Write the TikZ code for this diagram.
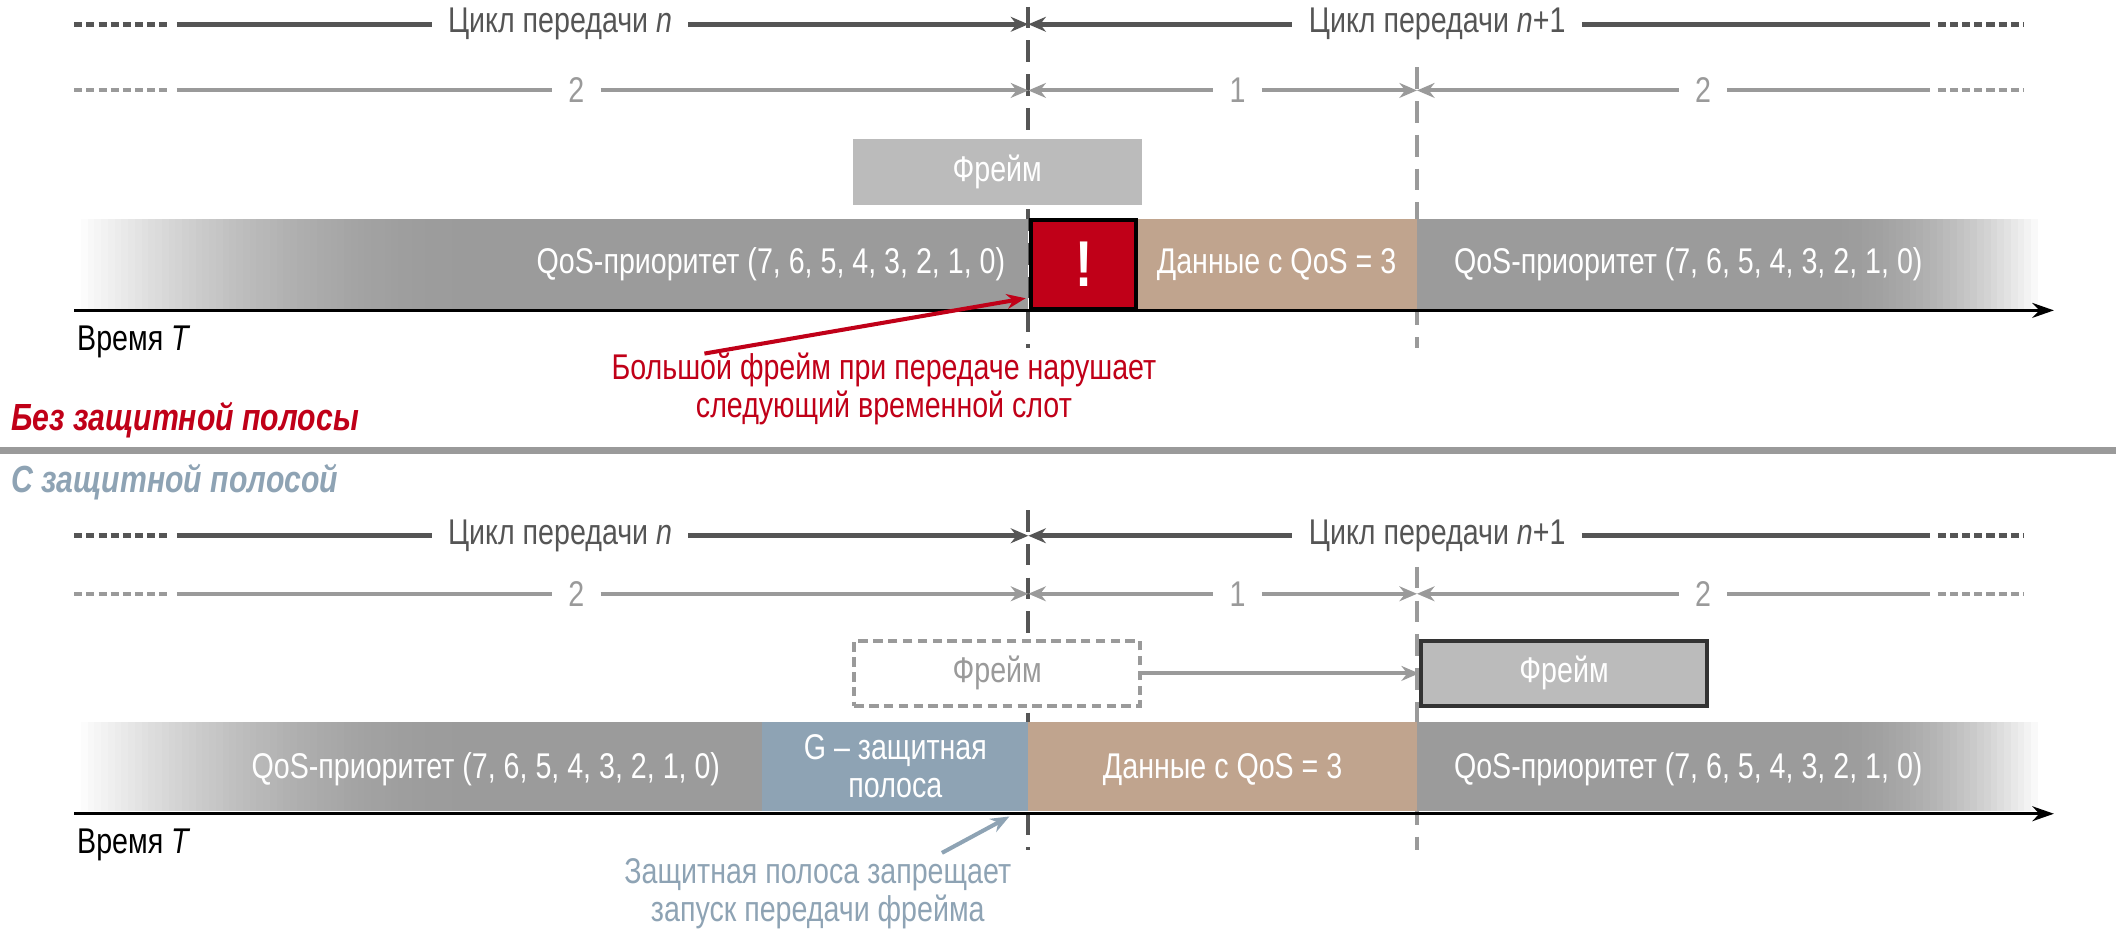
\documentclass[tikz,border=0pt]{standalone}
\usepackage{fontspec}
\setmainfont[FakeStretch=0.8]{Liberation Sans}
\usetikzlibrary{arrows.meta}
\definecolor{dk}{HTML}{555555}
\definecolor{lg}{HTML}{9A9A9A}
\definecolor{bar}{HTML}{9B9B9B}
\definecolor{fr}{HTML}{BBBBBB}
\definecolor{tan}{HTML}{C0A48E}
\definecolor{gb}{HTML}{8EA3B4}
\definecolor{rd}{HTML}{C00018}
\tikzset{
 tip/.style={-{Stealth[length=13pt,width=11pt]}},
 rtip/.style={{Stealth[length=13pt,width=11pt]}-},
 lab/.style={font=\fontsize{26.5}{28}\selectfont, inner sep=0pt},
 wlab/.style={lab, text=white},
 r1/.style={draw=dk, line width=3.5pt},
 r2/.style={draw=lg, line width=3pt},
 dots1/.style={draw=dk, line width=3.5pt, dash pattern=on 6pt off 3pt},
 dots2/.style={draw=lg, line width=3pt, dash pattern=on 6pt off 3pt},
 vdash/.style={line width=3pt, dash pattern=on 16pt off 9pt},
 hdr/.style={lab,anchor=west,font=\fontsize{28}{30}\selectfont\bfseries\itshape},
}
\newcommand{\lfadebar}[2]{% y top, y bottom
  \foreach \i in {0,...,59}{
    \pgfmathsetmacro{\t}{\i/59}
    \pgfmathsetmacro{\p}{100*\t*(2-\t)}
    \fill[bar!\p!white] (55+\i*5,#1) rectangle (61+\i*5,#2);}}
\newcommand{\rfadebar}[2]{%
  \foreach \i in {0,...,32}{
    \pgfmathsetmacro{\t}{\i/32}
    \pgfmathsetmacro{\p}{100-100*\t*\t}
    \fill[bar!\p!white] (1350+\i*5,#1) rectangle (1356+\i*5,#2);}}
\begin{document}
\begin{tikzpicture}[x=1pt,y=-1pt]
\useasboundingbox (0,0) rectangle (1568,691);
% ---------- TOP ----------
\draw[vdash,draw=dk] (762,5) -- (762,258);
\draw[vdash,draw=lg] (1050,50) -- (1050,258);
\node[lab,text=dk] (c1) at (415,18) {Цикл передачи \textit{n}};
\node[lab,text=dk] (c2) at (1065,18) {Цикл передачи \textit{n}+1};
\coordinate (v1) at (762,18);
\draw[dots1] (55,18) -- (126,18);
\draw[r1] (131,18) -- ([xshift=-12pt]c1.west);
\draw[r1,tip] ([xshift=12pt]c1.east) -- (v1);
\draw[r1,rtip] (v1) -- ([xshift=-12pt]c2.west);
\draw[r1] ([xshift=12pt]c2.east) -- (1430,18);
\draw[dots1] (1436,18) -- (1500,18);
\node[lab,text=lg] (d1) at (427,67) {2};
\node[lab,text=lg] (d2) at (917,67) {1};
\node[lab,text=lg] (d3) at (1262,67) {2};
\coordinate (v2) at (762,67); \coordinate (v3) at (1050,67);
\draw[dots2] (55,67) -- (126,67);
\draw[r2] (131,67) -- ([xshift=-12pt]d1.west);
\draw[r2,tip] ([xshift=12pt]d1.east) -- (v2);
\draw[r2,rtip] (v2) -- ([xshift=-12pt]d2.west);
\draw[r2,tip] ([xshift=12pt]d2.east) -- (v3);
\draw[r2,rtip] (v3) -- ([xshift=-12pt]d3.west);
\draw[r2] ([xshift=12pt]d3.east) -- (1430,67);
\draw[dots2] (1436,67) -- (1500,67);
\node[fill=fr,minimum width=214pt,minimum height=49pt,inner sep=0pt,wlab] (f1) at (739,127.5) {Фрейм};
\lfadebar{162}{230}
\fill[bar] (354,162) rectangle (762,230);
\fill[tan] (843,162) rectangle (1050,230);
\fill[bar] (1050,162) rectangle (1351,230);
\rfadebar{162}{230}
\node[wlab,anchor=east] (q1) at (745,196) {QoS-приоритет (7, 6, 5, 4, 3, 2, 1, 0)};
\node[wlab] (t1) at (946,196) {Данные с QoS = 3};
\node[wlab] (q2) at (1251,196) {QoS-приоритет (7, 6, 5, 4, 3, 2, 1, 0)};
\node[draw=black,line width=3pt,fill=rd,minimum width=78pt,minimum height=66pt,inner sep=0pt,text=white,font=\fontsize{48}{48}\selectfont\bfseries] (ex) at (803,196) {!};
\coordinate (a1s) at (55,230); \coordinate (a1e) at (1522,230);
\draw[line width=2.5pt,-{Stealth[length=16pt,width=11pt]}] (a1s) -- (a1e);
\node[lab,anchor=west] (tm1) at (57,253) {Время \textit{T}};
\node[lab,text=rd,align=center,font=\fontsize{26.5}{28}\selectfont] (w1) at (655,288) {Большой фрейм при передаче нарушает\\следующий временной слот};
\draw[rd,line width=3pt,-{Stealth[length=14pt,width=11pt]}] (522,262) -- (760,221);
\node[hdr,text=rd] (h1) at (8,311) {Без защитной полосы};
\coordinate (sepl) at (0,334); \coordinate (sepr) at (1568,334);
\draw[lg,line width=5pt] (sepl) -- (sepr);
\node[hdr,text=gb] (h2) at (8,357) {С защитной полосой};
% ---------- BOTTOM ----------
\draw[vdash,draw=dk] (762,378) -- (762,630);
\draw[vdash,draw=lg] (1050,420) -- (1050,630);
\node[lab,text=dk] (c3) at (415,397) {Цикл передачи \textit{n}};
\node[lab,text=dk] (c4) at (1065,397) {Цикл передачи \textit{n}+1};
\coordinate (v4) at (762,397);
\draw[dots1] (55,397) -- (126,397);
\draw[r1] (131,397) -- ([xshift=-12pt]c3.west);
\draw[r1,tip] ([xshift=12pt]c3.east) -- (v4);
\draw[r1,rtip] (v4) -- ([xshift=-12pt]c4.west);
\draw[r1] ([xshift=12pt]c4.east) -- (1430,397);
\draw[dots1] (1436,397) -- (1500,397);
\node[lab,text=lg] (e1) at (427,440) {2};
\node[lab,text=lg] (e2) at (917,440) {1};
\node[lab,text=lg] (e3) at (1262,440) {2};
\coordinate (v5) at (762,440); \coordinate (v6) at (1050,440);
\draw[dots2] (55,440) -- (126,440);
\draw[r2] (131,440) -- ([xshift=-12pt]e1.west);
\draw[r2,tip] ([xshift=12pt]e1.east) -- (v5);
\draw[r2,rtip] (v5) -- ([xshift=-12pt]e2.west);
\draw[r2,tip] ([xshift=12pt]e2.east) -- (v6);
\draw[r2,rtip] (v6) -- ([xshift=-12pt]e3.west);
\draw[r2] ([xshift=12pt]e3.east) -- (1430,440);
\draw[dots2] (1436,440) -- (1500,440);
\node[draw=lg,line width=3pt,dash pattern=on 7pt off 4pt,fill=white,minimum width=212pt,minimum height=48pt,inner sep=0pt,lab,text=lg] (f2) at (739,499) {Фрейм};
\node[draw=black!80,line width=3pt,fill=fr,minimum width=212pt,minimum height=48pt,inner sep=0pt,wlab] (f3) at (1159,499) {Фрейм};
\draw[lg,line width=3pt,-{Stealth[length=13pt,width=11pt]}] (f2.east) -- (f3.west);
\lfadebar{535}{601}
\fill[bar] (354,535) rectangle (565,601);
\fill[tan] (762,535) rectangle (1050,601);
\fill[bar] (1050,535) rectangle (1351,601);
\rfadebar{535}{601}
\node[fill=gb,minimum width=197pt,minimum height=66pt,inner sep=0pt,wlab,align=center,font=\fontsize{26.5}{28}\selectfont] (g) at (663.5,568) {G – защитная\\полоса};
\node[wlab] (q3) at (360,570) {QoS-приоритет (7, 6, 5, 4, 3, 2, 1, 0)};
\node[wlab] (t2) at (906,570) {Данные с QoS = 3};
\node[wlab] (q4) at (1251,570) {QoS-приоритет (7, 6, 5, 4, 3, 2, 1, 0)};
\coordinate (a2s) at (55,603); \coordinate (a2e) at (1522,603);
\draw[line width=2.5pt,-{Stealth[length=16pt,width=11pt]}] (a2s) -- (a2e);
\node[lab,anchor=west] (tm2) at (57,626) {Время \textit{T}};
\node[lab,text=gb,align=center,font=\fontsize{26.5}{28}\selectfont] (w2) at (606,662) {Защитная полоса запрещает\\запуск передачи фрейма};
\draw[gb,line width=3pt,-{Stealth[length=14pt,width=11pt]}] (698,632) -- (748,605);
\end{tikzpicture}
\end{document}
